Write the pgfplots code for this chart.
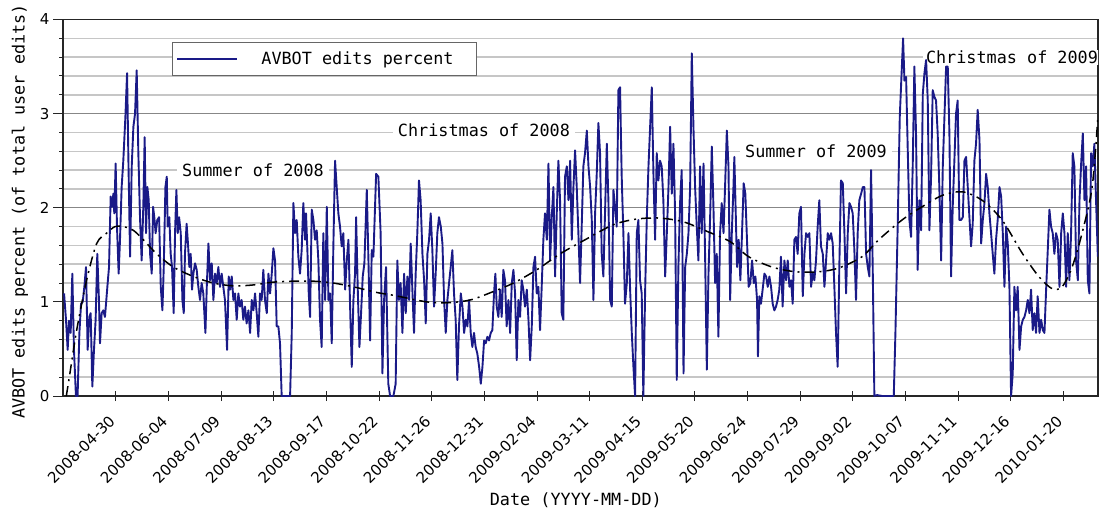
\documentclass[border=0pt]{standalone}
\usepackage{pgfplots}
\pgfplotsset{compat=1.18}
\usepackage{fontspec}
\setmainfont{DejaVu Sans}
\newfontfamily\mono{DejaVu Sans Mono}
\newcommand\tickfont{\fontsize{15}{17}\selectfont}
\newcommand\monofont{\mono\fontsize{16.8}{20}\selectfont}
\definecolor{avblue}{RGB}{26,26,135}
\definecolor{majgrid}{RGB}{135,135,135}
\definecolor{mingrid}{RGB}{198,198,198}
\begin{document}
\begin{tikzpicture}
\useasboundingbox (0,0) rectangle (1102pt,512pt);
\begin{axis}[
  at={(63pt,116pt)}, anchor=south west,
  scale only axis, width=1035pt, height=376.5pt,
  xmin=-35.2, xmax=653, ymin=0, ymax=4,
  xtick={0,35,70,105,140,175,210,245,280,315,350,385,420,455,490,525,560,595,630},
  xticklabels={2008-04-30,2008-06-04,2008-07-09,2008-08-13,2008-09-17,2008-10-22,2008-11-26,2008-12-31,2009-02-04,2009-03-11,2009-04-15,2009-05-20,2009-06-24,2009-07-29,2009-09-02,2009-10-07,2009-11-11,2009-12-16,2010-01-20},
  ytick={0,1,2,3,4},
  minor y tick num=4,
  ymajorgrids, yminorgrids,
  major grid style={majgrid, line width=1.2pt},
  minor grid style={mingrid, line width=1.5pt},
  xtick align=center, ytick align=outside,
  major tick length=10pt, minor tick length=4pt,
  tick style={black!85, line width=1pt},
  xtick pos=bottom, ytick pos=left,
  axis line style={black!85, line width=1.3pt},
  /pgf/number format/assume math mode=true,
  xticklabel style={font=\tickfont, xshift=-1.5pt, yshift=-15pt, rotate=45, anchor=east},
  yticklabel style={font=\tickfont},
  xlabel={Date (YYYY-MM-DD)},
  ylabel={AVBOT edits percent (of total user edits)},
  every axis x label/.style={at={(axis description cs:0.4955,-0.278)}, anchor=center, font=\monofont},
  every axis y label/.style={at={(axis description cs:-0.0415,0.49)}, rotate=90, anchor=center, font=\monofont},
  legend style={at={(rel axis cs:0.1053,0.940)}, anchor=north west, draw=black!60, line width=1pt, fill=white,
    inner xsep=4pt, inner ysep=6pt, nodes={inner xsep=4pt, inner ysep=3.5pt}, font=\monofont},
  legend image code/.code={\draw[#1] (0pt,0pt) -- (60pt,0pt);},
]
\node[fill=white, inner xsep=5pt, inner ysep=1pt, font=\monofont] at (axis cs:91.1,2.40) {Summer of 2008};
\node[fill=white, inner xsep=5pt, inner ysep=1pt, font=\monofont] at (axis cs:244.7,2.82) {Christmas of 2008};
\node[fill=white, inner xsep=5pt, inner ysep=1pt, font=\monofont] at (axis cs:465.5,2.60) {Summer of 2009};
\node[fill=white, inner xsep=3pt, inner ysep=1pt, font=\monofont] at (axis cs:595.8,3.60) {Christmas of 2009};

\addplot[avblue, line width=1.9pt, line join=round] coordinates {
(-34.5,1.09)(-33.2,0.81)(-32.1,0.49)(-31.2,0.8)(-30.1,0.67)(-29.0,1.3)(-27.9,0.49)(-26.6,0)(-25.5,0)(-24.3,0.67)(-23.2,0.98)(-22.1,1.0)(-21.0,1.16)(-19.9,1.37)(-18.8,0.49)(-17.7,0.84)(-16.8,0.88)(-15.7,0.1)(-14.6,0.49)(-13.5,0.81)(-12.4,1.51)(-11.3,1.02)(-10.6,0.56)(-9.5,0.88)(-8.4,0.91)(-7.3,0.84)(-6.4,1.02)(-5.5,1.2)(-4.6,1.37)(-3.5,2.12)(-2.6,2.01)(-1.7,2.15)(-1.1,1.94)(-0.2,2.47)(0.7,1.8)(1.8,1.3)(2.7,1.66)(3.8,2.22)(4.9,2.5)(6.3,2.97)(7.4,3.43)(8.3,2.5)(9.4,1.48)(10.5,2.44)(11.6,2.86)(12.7,3.0)(13.8,3.46)(14.9,2.58)(16.0,1.9)(17.1,1.44)(18.2,2.01)(19.1,2.75)(20.0,1.73)(20.9,2.22)(21.8,2.08)(22.7,1.51)(23.8,1.3)(24.7,2.01)(25.5,1.9)(26.4,1.73)(27.5,1.87)(28.7,1.9)(29.8,1.16)(30.9,0.91)(31.8,1.37)(32.9,2.22)(33.8,2.33)(34.4,1.8)(35.5,1.9)(36.4,1.51)(37.3,1.37)(38.4,0.88)(39.3,1.73)(40.2,2.19)(41.1,1.73)(42.0,1.9)(43.1,1.73)(44.2,1.02)(45.1,0.88)(45.9,1.51)(47.0,1.83)(47.9,1.62)(48.8,1.37)(49.7,1.51)(50.6,1.13)(51.5,1.3)(52.6,1.41)(53.7,1.34)(54.8,1.16)(55.9,1.02)(57.0,1.2)(58.1,1.09)(59.5,0.67)(60.4,1.16)(61.5,1.62)(62.6,1.23)(63.7,1.41)(64.8,1.02)(65.9,1.3)(67.0,1.2)(68.1,1.37)(69.2,1.16)(70.3,1.3)(71.4,1.16)(72.5,1.02)(73.9,0.49)(75.0,1.27)(75.9,1.13)(77.0,1.27)(78.1,1.02)(79.2,1.09)(80.3,0.81)(81.4,1.09)(82.5,0.95)(83.6,1.02)(84.7,0.81)(85.8,0.95)(86.9,0.77)(88.1,0.91)(89.2,0.67)(90.3,1.02)(91.4,0.91)(92.5,1.09)(93.6,0.88)(94.7,0.63)(95.8,1.09)(96.9,1.02)(98.0,1.34)(99.1,1.02)(100.3,0.88)(101.4,1.30)(102.5,1.09)(103.6,1.3)(104.7,1.57)(105.8,1.44)(106.9,0.74)(108.0,0.74)(109.1,0.56)(110.2,0)(113.6,0)(115.8,0)(116.9,0.67)(118.0,2.05)(119.1,1.73)(120.2,1.87)(121.3,1.48)(122.4,1.3)(123.5,1.55)(124.6,2.05)(125.8,1.66)(126.4,1.94)(127.3,1.55)(128.2,1.09)(129.1,0.84)(130.2,1.98)(131.3,1.87)(132.4,1.66)(133.5,1.76)(134.6,1.44)(135.7,0.81)(136.8,0.52)(137.9,1.73)(139.1,1.02)(140.2,2.01)(141.3,1.02)(142.4,1.09)(143.5,0.56)(144.6,1.62)(145.7,2.5)(146.8,2.22)(147.9,1.94)(149.0,1.8)(150.1,1.59)(151.2,1.73)(152.4,1.13)(153.5,1.44)(154.6,1.66)(155.7,0.95)(156.8,0.31)(157.9,1.02)(159.0,1.3)(159.7,1.9)(160.8,1.13)(161.9,0.52)(163.0,0.88)(164.1,1.27)(165.2,1.41)(166.8,2.19)(167.9,1.44)(169.0,0.59)(170.1,1.55)(171.2,1.48)(173.0,2.36)(174.5,2.33)
(176.0,1.73)(177.2,0.24)(178.3,1.02)(179.6,1.37)(181.1,0.13)(182.3,0)(184.5,0)(186.0,0.13)(187.1,1.44)(188.2,1.02)(189.3,1.2)(190.5,0.67)(191.6,1.3)(192.7,0.88)(193.8,1.27)(194.9,1.02)(196.0,1.62)(197.1,1.13)(198.2,0.67)(199.3,1.3)(200.4,1.73)(201.5,2.29)(202.6,2.08)(203.8,1.51)(204.9,1.23)(206.0,0.77)(207.1,1.51)(208.2,1.66)(209.3,1.94)(210.4,1.55)(211.5,0.95)(212.6,1.3)(213.7,1.73)(214.8,1.9)(216.0,1.8)(217.1,1.62)(218.2,1.02)(219.3,0.67)(220.4,1.02)(221.5,1.2)(222.6,1.37)(223.7,1.55)(224.8,1.09)(225.9,0.81)(227.0,0.17)(228.1,0.74)(229.3,1.09)(230.4,0.95)(231.5,0.67)(232.6,0.81)(233.7,0.74)(234.8,1.02)(235.9,0.67)(237.0,0.52)(238.1,0.67)(239.2,0.52)(240.3,0.45)(241.5,0.31)(242.6,0.13)(243.7,0.31)(244.8,0.59)(245.9,0.56)(247.0,0.63)(248.1,0.59)(249.2,0.67)(250.3,0.70)(251.4,1.09)(252.3,1.3)(253.2,0.95)(254.3,0.84)(255.4,1.13)(256.5,0.84)(257.6,1.34)(258.7,1.23)(259.8,0.74)(261.0,1.02)(262.1,0.67)(263.2,1.2)(264.3,1.34)(265.4,1.09)(266.5,0.38)(267.6,1.02)(268.7,0.84)(269.8,1.23)(270.9,1.13)(272.0,0.95)(273.2,1.13)(274.3,0.81)(275.4,0.38)(276.5,0.74)(277.6,1.37)(278.7,1.48)(279.8,1.09)(280.9,1.16)(282.0,0.70)(283.1,1.16)(284.2,1.66)(285.3,1.94)(286.5,1.66)(287.6,2.47)(288.7,1.44)(289.8,1.9)(290.9,2.22)(292.0,1.27)(293.1,1.94)(294.2,2.5)(295.3,2.08)(296.4,0.88)(297.5,0.81)(298.6,2.33)(299.8,2.44)(300.9,2.08)(302.0,2.5)(303.1,1.66)(304.2,2.22)(305.3,2.61)(306.4,2.22)(307.5,1.73)(308.6,1.2)(309.7,1.8)(310.8,2.44)(311.9,2.58)(313.1,2.82)(314.2,2.44)(315.3,2.22)(316.4,1.87)(317.5,1.02)(318.6,1.94)(319.7,2.36)(320.8,2.9)(321.9,2.58)(323.0,1.51)(324.1,1.27)(325.2,1.94)(326.4,2.68)(327.5,2.05)(328.6,1.02)(329.7,0.95)(330.8,2.19)(331.9,2.01)(333.0,1.8)(334.1,3.25)(335.2,3.28)(336.3,2.33)(337.4,1.73)(338.5,0.98)(339.7,1.2)(340.8,1.73)(341.9,1.13)(343.0,0.67)(344.1,0.31)(345.2,0)(346.3,1.73)(347.4,1.87)(348.5,1.23)(349.6,1.09)(350.7,0)(351.9,1.13)(353.0,1.9)(354.1,2.44)(355.2,2.86)(356.3,3.28)(357.4,2.36)(358.5,1.66)(359.6,2.58)(360.7,2.29)(361.8,2.5)(362.9,2.44)(364.0,2.08)(365.2,1.27)(366.3,1.73)(367.4,2.22)(368.5,2.86)(369.6,2.15)(370.7,2.68)(371.8,1.94)(372.9,0.17)(374.0,1.37)(375.1,2.05)(376.2,2.4)(377.4,0.24)(378.5,1.37)(379.6,1.51)(380.7,1.73)(381.8,2.22)(382.9,3.64)(384.0,2.86)(385.1,2.22)(386.2,1.8)(387.3,1.44)(388.4,2.44)(389.5,1.73)(390.7,2.47)(391.8,1.44)(392.9,0.28)(394.0,1.3)(395.1,1.9)(396.2,2.65)(397.3,2.01)(398.4,1.2)(399.5,1.51)(400.6,0.63)(401.7,1.73)(402.8,2.05)(404.0,1.73)(405.1,2.26)(406.2,2.82)(407.3,2.44)(408.4,1.02)(409.5,1.73)(410.6,2.22)(411.2,2.54)
(413.0,1.37)(414.1,1.66)(415.2,1.23)(416.3,1.73)(417.4,2.26)(418.5,2.15)(419.6,1.66)(420.7,1.16)(421.8,1.2)(423.0,1.44)(424.1,1.2)(425.2,1.27)(426.3,1.02)(426.9,0.42)(427.8,1.06)(428.9,0.98)(430.0,1.13)(431.2,1.3)(432.3,1.27)(433.4,1.16)(434.5,1.27)(435.6,1.16)(436.7,0.98)(437.8,0.91)(438.9,0.95)(440.0,1.02)(441.1,1.13)(442.2,1.48)(443.3,0.95)(444.5,1.44)(445.6,1.23)(446.7,1.44)(447.8,1.16)(448.9,1.23)(450.0,0.98)(451.1,1.66)(452.2,1.69)(453.3,1.51)(454.4,1.94)(455.5,2.01)(456.7,1.06)(457.8,1.51)(458.9,1.73)(460.0,1.69)(461.1,1.73)(462.2,1.16)(463.3,1.3)(464.4,1.23)(465.5,1.44)(466.6,1.8)(467.7,2.08)(468.8,1.59)(470.0,1.51)(471.1,1.16)(472.2,1.44)(473.3,1.73)(474.4,1.66)(475.5,1.73)(476.6,1.62)(477.7,1.16)(478.8,0.67)(479.9,0.31)(481.0,1.37)(482.1,2.29)(483.3,2.26)(484.4,1.73)(485.5,1.09)(486.6,1.73)(487.7,2.05)(488.8,2.01)(489.9,1.94)(491.0,1.55)(492.1,1.02)(493.2,1.73)(494.3,2.08)(495.5,2.15)(496.6,2.22)(497.7,2.22)(498.8,1.51)(499.9,1.37)(501.0,1.27)(502.1,2.4)(503.2,1.37)(504.3,0)(506.1,0.01)(509.4,0)(513.8,0)(517.2,0)(518.3,0.67)(519.8,1.8)(521.2,2.97)(522.3,3.39)(523.4,3.8)(524.3,3.35)(525.4,3.39)(526.5,2.61)(527.6,1.87)(528.7,1.69)(529.8,2.44)(530.9,3.5)(532.0,2.79)(533.1,1.34)(534.2,2.08)(535.4,1.76)(536.5,3.21)(537.6,3.43)(538.7,3.57)(539.8,3.14)(540.9,1.76)(542.0,2.33)(543.1,3.25)(544.2,3.18)(545.3,3.14)(546.4,2.79)(547.5,2.22)(548.7,1.44)(549.8,2.44)(550.9,2.97)(552.0,3.5)(553.1,3.5)(554.2,2.79)(555.3,1.27)(556.4,2.01)(557.5,2.5)(558.6,3.0)(559.7,3.14)(560.8,1.87)(562.0,1.87)(563.1,1.9)(564.2,2.5)(565.3,2.54)(566.4,2.22)(567.5,1.9)(568.6,1.59)(569.7,1.83)(570.8,2.5)(571.9,2.68)(573.0,3.04)(574.2,2.72)(575.3,1.62)(576.4,1.87)(577.5,2.05)(578.6,2.36)(579.7,2.22)(580.8,1.94)(581.9,1.73)(583.0,1.51)(584.1,1.3)(585.2,1.66)(586.3,1.87)(587.5,2.22)(588.6,2.12)(589.7,1.73)(590.8,1.16)(591.9,1.8)(593.0,1.62)(594.1,1.16)(595.2,0)(596.3,0.24)(597.4,1.16)(598.5,0.91)(599.6,1.16)(600.8,0.49)(601.9,0.74)(603.0,0.81)(604.1,0.84)(605.2,0.91)(606.3,1.02)(607.4,0.88)(608.5,1.13)(609.6,0.70)(610.7,0.88)(611.8,0.67)(612.9,1.06)(614.1,0.67)(615.2,0.81)(616.3,0.70)(617.4,0.67)(618.5,1.13)(619.6,1.55)(620.7,1.98)(621.8,1.8)(622.9,1.73)(624.0,1.51)(625.1,1.73)(626.2,1.66)(627.4,1.16)(628.5,1.73)(629.6,1.94)(630.7,1.73)(631.8,1.16)(632.9,1.73)(634.0,1.23)(635.1,1.73)(636.2,2.58)(637.3,2.44)(638.4,1.44)(639.6,1.23)(640.7,2.08)(641.8,2.47)(642.9,2.79)(644.0,2.08)(645.1,2.44)(646.2,1.23)(647.3,1.09)(648.4,2.58)(649.5,2.44)(650.6,2.68)(651.7,2.08)(652.9,1.48)
};
\addlegendentry{\hspace*{19pt}AVBOT edits percent\hspace*{15pt}\null}

\addplot[black, line width=1.5pt, smooth, tension=0.5, dash pattern=on 10pt off 5pt on 2pt off 5pt, forget plot] coordinates {
(-33,0)(-31,0.2)(-26.1,0.7)(-19.5,1.23)(-12.8,1.62)(-6.2,1.73)(-0.6,1.8)(4.9,1.8)(11.6,1.76)(18.2,1.66)(27.1,1.51)(38.2,1.37)(51.5,1.27)(64.8,1.2)(78.1,1.17)(91.4,1.18)(104.7,1.21)(118,1.22)(131.3,1.22)(144.6,1.2)(157.9,1.16)(173.4,1.1)(184.5,1.07)(206.6,1.0)(220,0.99)(235.5,1.02)(251,1.11)(264.3,1.2)(279.8,1.34)(295.3,1.51)(313.1,1.67)(330.8,1.82)(346.3,1.88)(361.8,1.89)(377.4,1.85)(392.9,1.75)(408.4,1.64)(420.7,1.48)(436.3,1.37)(451.8,1.32)(467.3,1.32)(480.6,1.36)(496.1,1.48)(507.2,1.66)(522.7,1.87)(536,2.01)(549.3,2.13)(562.6,2.17)(575.9,2.08)(589.2,1.87)(602.5,1.52)(613.6,1.27)(622.5,1.14)(629.1,1.16)(635.8,1.37)(642.4,1.73)(649.1,2.22)(652.9,2.96)
};
\end{axis}
\end{tikzpicture}
\end{document}
